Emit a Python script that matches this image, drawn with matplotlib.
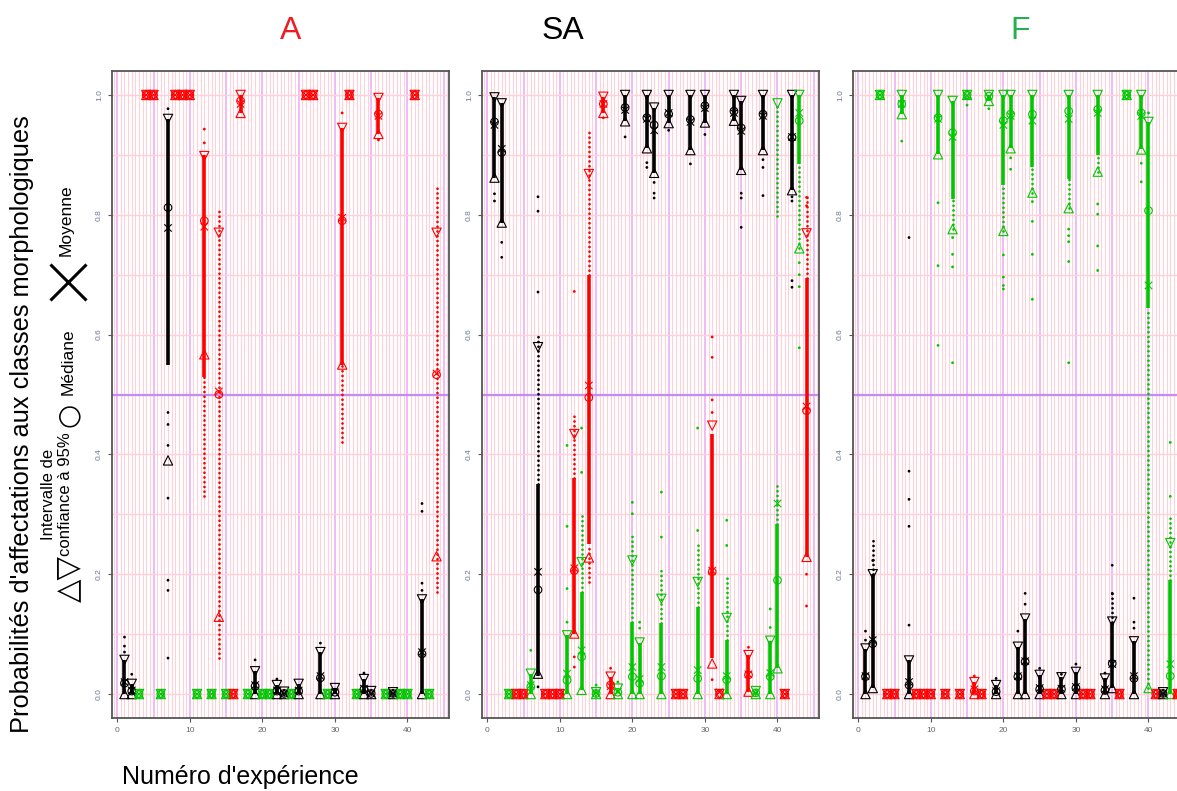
import numpy as np
import matplotlib.pyplot as plt
from matplotlib.lines import Line2D
from matplotlib.ticker import FixedLocator

plt.rcParams['font.family'] = ['Liberation Sans', 'DejaVu Sans']

# couleur (classe) de chaque experience, 1..44
classes = ['K', 'K', 'G', 'R', 'R', 'G', 'K', 'R', 'R', 'R',
           'G', 'R', 'G', 'R', 'G', 'R', 'R', 'G', 'K', 'G',
           'G', 'K', 'K', 'G', 'K', 'R', 'R', 'K', 'G', 'K',
           'R', 'R', 'G', 'K', 'K', 'R', 'G', 'K', 'G', 'G',
           'R', 'K', 'G', 'R']
couleurs = {'R': '#ff0000', 'K': '#000000', 'G': '#00c800'}
experiences = np.arange(1, 45)

# ---- panneau A ----
lo_A = [0, 0, 0, 1, 1, 0, 0.39, 1, 1, 1,
        0, 0.567, 0, 0.129, 0, 0, 0.97, 0, 0, 0,
        0, 0, 0, 0, 0, 1, 1, 0, 0, 0,
        0.55, 1, 0, 0, 0, 0.935, 0, 0, 0, 0,
        1, 0, 0, 0.23]
hi_A = [0.057, 0.017, 0, 1, 1, 0, 0.96, 1, 1, 1,
        0, 0.898, 0, 0.77, 0, 0, 1.0, 0, 0.038, 0,
        0, 0.015, 0.004, 0, 0.017, 1, 1, 0.07, 0, 0.01,
        0.945, 1, 0, 0.025, 0.005, 0.995, 0, 0.003, 0, 0,
        1, 0.158, 0, 0.77]
med_A = [0.018, 0.005, 0, 1, 1, 0, 0.812, 1, 1, 1,
         0, 0.79, 0, 0.50, 0, 0, 0.99, 0, 0.013, 0,
         0, 0.005, 0.001, 0, 0.005, 1, 1, 0.027, 0, 0.003,
         0.79, 1, 0, 0.008, 0.001, 0.968, 0, 0.001, 0, 0,
         1, 0.067, 0, 0.533]
mean_A = [0.02, 0.006, 0, 1, 1, 0, 0.778, 1, 1, 1,
          0, 0.78, 0, 0.505, 0, 0, 0.985, 0, 0.015, 0,
          0, 0.006, 0.001, 0, 0.006, 1, 1, 0.03, 0, 0.003,
          0.795, 1, 0, 0.009, 0.001, 0.965, 0, 0.001, 0, 0,
          1, 0.07, 0, 0.535]
dense_A = [(1, 0, 0.057), (2, 0, 0.017), (7, 0.55, 0.96), (12, 0.53, 0.9),
           (17, 0.97, 1.0), (19, 0, 0.038), (22, 0, 0.015), (25, 0, 0.017),
           (28, 0, 0.07), (30, 0, 0.01), (31, 0.55, 0.945), (34, 0, 0.025),
           (36, 0.935, 0.995), (42, 0, 0.158)]
sparse_A = [(12, 0.33, 0.53), (14, 0.06, 0.81), (31, 0.42, 0.55),
            (44, 0.17, 0.85)]
dots_A = [(1, 0.07), (1, 0.08), (1, 0.095), (2, 0.033), (7, 0.977),
          (7, 0.47), (7, 0.45), (7, 0.415), (7, 0.327), (7, 0.19),
          (7, 0.173), (7, 0.06), (12, 0.943), (12, 0.92), (19, 0.057),
          (22, 0.025), (28, 0.085), (31, 0.97), (34, 0.035), (36, 0.925),
          (42, 0.173), (42, 0.185), (42, 0.305), (42, 0.318)]

# ---- panneau SA ----
lo_SA = [0.862, 0.787, 0, 0, 0, 0, 0.034, 0, 0, 0,
         0, 0.101, 0.007, 0.228, 0, 0.97, 0, 0, 0.956, 0,
         0, 0.911, 0.870, 0, 0.953, 0, 0, 0.908, 0, 0.954,
         0.051, 0, 0, 0.957, 0.875, 0.004, 0, 0.908, 0, 0.043,
         0, 0.841, 0.744, 0.229]
hi_SA = [0.996, 0.986, 0, 0, 0, 0.034, 0.579, 0, 0, 0,
         0.098, 0.434, 0.22, 0.868, 0.003, 0.997, 0.029, 0.009, 1.0, 0.223,
         0.086, 1.0, 0.979, 0.159, 1.0, 0, 0, 1.0, 0.187, 1.0,
         0.448, 0, 0.127, 1.0, 0.99, 0.065, 0.005, 1.0, 0.089, 0.986,
         0, 1.0, 1.0, 0.769]
med_SA = [0.955, 0.904, 0, 0, 0, 0.012, 0.174, 0, 0, 0,
          0.023, 0.206, 0.062, 0.495, 0.001, 0.985, 0.015, 0.003, 0.979, 0.029,
          0.018, 0.962, 0.95, 0.03, 0.968, 0, 0, 0.959, 0.026, 0.982,
          0.204, 0, 0.024, 0.973, 0.945, 0.032, 0.002, 0.968, 0.029, 0.19,
          0, 0.929, 0.957, 0.473]
mean_SA = [0.95, 0.91, 0, 0, 0, 0.015, 0.204, 0, 0, 0,
           0.034, 0.21, 0.073, 0.515, 0.002, 0.985, 0.013, 0.004, 0.975, 0.045,
           0.025, 0.96, 0.941, 0.045, 0.97, 0, 0, 0.955, 0.04, 0.978,
           0.206, 0.003, 0.03, 0.97, 0.94, 0.033, 0.002, 0.965, 0.035, 0.318,
           0, 0.93, 0.97, 0.48]
dense_SA = [(1, 0.862, 0.996), (2, 0.787, 0.986), (6, 0, 0.034), (7, 0.03, 0.35),
            (11, 0, 0.098), (12, 0.1, 0.36), (13, 0.007, 0.17), (14, 0.25, 0.7),
            (16, 0.97, 0.997), (17, 0, 0.029), (19, 0.956, 1.0), (20, 0, 0.12),
            (21, 0, 0.086), (22, 0.911, 1.0), (23, 0.87, 0.979), (24, 0, 0.118),
            (25, 0.953, 1.0), (28, 0.908, 1.0), (29, 0, 0.146), (30, 0.954, 1.0),
            (31, 0.06, 0.434), (33, 0, 0.09), (34, 0.957, 1.0), (35, 0.875, 0.99),
            (36, 0.004, 0.065), (38, 0.908, 1.0), (39, 0, 0.089), (40, 0.043, 0.284),
            (42, 0.841, 1.0), (43, 0.884, 1.0), (44, 0.229, 0.695)]
sparse_SA = [(7, 0.35, 0.6), (12, 0.36, 0.47), (13, 0.17, 0.3), (14, 0.7, 0.94),
             (14, 0.187, 0.25), (20, 0.12, 0.27), (24, 0.118, 0.21),
             (29, 0.146, 0.25), (33, 0.09, 0.2), (40, 0.284, 0.35),
             (40, 0.798, 0.986), (43, 0.744, 0.884), (44, 0.695, 0.83)]
dots_SA = [(1, 0.835), (1, 0.823), (2, 0.754), (2, 0.729), (6, 0.073),
           (7, 0.83), (7, 0.806), (7, 0.671), (7, 0.012), (11, 0.415),
           (11, 0.28), (11, 0.176), (11, 0.12), (12, 0.672), (12, 0.062),
           (12, 0.045), (13, 0.444), (13, 0.37), (15, 0.015), (16, 0.962),
           (17, 0.043), (18, 0.02), (19, 0.93), (20, 0.32), (20, 0.301),
           (21, 0.12), (21, 0.11), (22, 0.887), (22, 0.879), (23, 0.854),
           (23, 0.836), (23, 0.828), (24, 0.337), (24, 0.262), (25, 0.941),
           (28, 0.885), (29, 0.444), (29, 0.273), (30, 0.934), (31, 0.596),
           (31, 0.562), (31, 0.491), (31, 0.47), (31, 0.024), (33, 0.29),
           (33, 0.248), (35, 0.836), (35, 0.828), (35, 0.779), (36, 0.078),
           (38, 0.892), (38, 0.879), (38, 0.832), (39, 0.142), (39, 0.111),
           (42, 0.83), (42, 0.823), (42, 0.69), (42, 0.679), (43, 0.72),
           (43, 0.7), (43, 0.68), (43, 0.578), (44, 0.829), (44, 0.815),
           (44, 0.2), (44, 0.147)]

# ---- panneau F ----
lo_F = [0, 0.01, 1, 0, 0, 0.968, 0, 0, 0, 0,
        0.901, 0, 0.776, 0, 1, 0, 0, 0.99, 0, 0.773,
        0.911, 0, 0, 0.837, 0, 0, 0, 0, 0.811, 0,
        0, 0, 0.872, 0, 0.01, 0, 1, 0, 0.909, 0.01,
        0, 0, 0, 0]
hi_F = [0.076, 0.2, 1, 0, 0, 1.0, 0.056, 0, 0, 0,
        1.0, 0, 0.99, 0, 1, 0.02, 0, 1.0, 0.015, 1.0,
        1.0, 0.079, 0.126, 1.0, 0.032, 0, 0, 0.028, 1.0, 0.037,
        0, 0, 1.0, 0.026, 0.121, 0, 1, 0.088, 1.0, 0.955,
        0, 0.003, 0.252, 0]
med_F = [0.029, 0.084, 1, 0, 0, 0.985, 0.015, 0, 0, 0,
         0.962, 0, 0.937, 0, 1, 0.005, 0, 0.998, 0.004, 0.957,
         0.968, 0.029, 0.054, 0.968, 0.008, 0, 0, 0.008, 0.973, 0.01,
         0, 0, 0.976, 0.006, 0.051, 0, 1, 0.026, 0.97, 0.807,
         0, 0.001, 0.03, 0]
mean_F = [0.03, 0.09, 1, 0, 0, 0.985, 0.02, 0, 0, 0,
          0.96, 0, 0.93, 0, 0.999, 0.008, 0, 0.997, 0.005, 0.95,
          0.965, 0.03, 0.055, 0.957, 0.01, 0, 0, 0.009, 0.96, 0.012,
          0, 0, 0.97, 0.008, 0.05, 0, 1, 0.03, 0.965, 0.682,
          0, 0.001, 0.05, 0]
dense_F = [(1, 0, 0.076), (2, 0.01, 0.2), (6, 0.968, 1.0), (7, 0, 0.056),
           (11, 0.901, 1.0), (13, 0.826, 0.99), (16, 0, 0.02), (18, 0.99, 1.0),
           (19, 0, 0.015), (20, 0.85, 1.0), (21, 0.911, 1.0), (22, 0, 0.079),
           (23, 0, 0.126), (24, 0.88, 1.0), (25, 0, 0.032), (28, 0, 0.028),
           (29, 0.86, 1.0), (30, 0, 0.037), (33, 0.9, 1.0), (34, 0, 0.026),
           (35, 0.01, 0.121), (38, 0, 0.088), (39, 0.909, 1.0), (40, 0.645, 0.955),
           (43, 0, 0.19)]
sparse_F = [(2, 0.2, 0.26), (13, 0.776, 0.826), (20, 0.773, 0.85),
            (24, 0.837, 0.88), (29, 0.811, 0.86), (33, 0.872, 0.9),
            (35, 0.121, 0.17), (40, 0.01, 0.645), (43, 0.19, 0.3)]
dots_F = [(1, 0.105), (1, 0.09), (2, 0.223), (6, 0.923), (7, 0.115),
          (7, 0.28), (7, 0.325), (7, 0.372), (7, 0.762), (11, 0.82),
          (11, 0.715), (11, 0.582), (13, 0.762), (13, 0.734), (13, 0.713),
          (13, 0.553), (15, 0.983), (16, 0.03), (18, 0.977), (19, 0.026),
          (20, 0.733), (20, 0.696), (20, 0.682), (20, 0.676), (21, 0.895),
          (21, 0.876), (22, 0.105), (23, 0.168), (23, 0.15), (24, 0.822),
          (24, 0.789), (24, 0.734), (24, 0.659), (25, 0.043), (28, 0.033),
          (29, 0.776), (29, 0.765), (29, 0.755), (29, 0.722), (29, 0.553),
          (30, 0.05), (33, 0.818), (33, 0.801), (33, 0.748), (33, 0.707),
          (34, 0.035), (35, 0.168), (35, 0.215), (38, 0.16), (38, 0.12),
          (38, 0.11), (39, 0.886), (39, 0.855), (40, 0.97), (43, 0.33),
          (43, 0.42)]

panneaux = [
    ('A', '#ee1c24', lo_A, hi_A, med_A, mean_A, dense_A, sparse_A, dots_A),
    ('SA', '#000000', lo_SA, hi_SA, med_SA, mean_SA, dense_SA, sparse_SA, dots_SA),
    ('F', '#22b14c', lo_F, hi_F, med_F, mean_F, dense_F, sparse_F, dots_F),
]

W, H = 1177, 791
fig = plt.figure(figsize=(W / 100, H / 100), dpi=100)
gauches = [112, 482, 853]
titres_x = [291, 563, 1020]


def col(n):
    return couleurs[classes[n - 1]]


for k, (nom, ctitre, lo, hi, med, moy, dense, sparse, dots) in enumerate(panneaux):
    ax = fig.add_axes([gauches[k] / W, 1 - 718 / H, 337 / W, 647 / H])
    ax.set_xlim(-0.72, 45.72)
    ax.set_ylim(-0.04, 1.04)

    # quadrillage
    for xv in np.arange(-1, 46.01, 0.5):
        if abs(xv / 5 - round(xv / 5)) < 1e-9:
            ax.axvline(xv, color='#f0b4f4', lw=1.3, zorder=0)
        else:
            ax.axvline(xv, color='#ffd0da', lw=0.8, zorder=0)
    for yv in np.arange(0, 1.01, 0.1):
        ax.axhline(yv, color='#ffd0da', lw=1.0, zorder=0)
    ax.axhline(0.5, color='#c28cf2', lw=1.6, zorder=0.5)

    # points : zones denses, zones clairsemees, points isoles
    for n, y0, y1 in dense:
        ax.plot([n, n], [y0, y1], color=col(n), lw=2.6,
                solid_capstyle='butt', zorder=2)
    for n, y0, y1 in sparse:
        ax.plot([n, n], [y0, y1], color=col(n), lw=2.0,
                linestyle=(0, (0.01, 1.7)), dash_capstyle='round', zorder=2)
    ax.scatter([d[0] for d in dots], [d[1] for d in dots],
               c=[col(d[0]) for d in dots], s=4, linewidths=0, zorder=2)

    cs = [col(n) for n in experiences]
    ax.scatter(experiences, hi, marker='v', s=45, facecolors='none',
               edgecolors=cs, linewidths=0.8, zorder=3)
    ax.scatter(experiences, lo, marker='^', s=45, facecolors='none',
               edgecolors=cs, linewidths=0.8, zorder=3)
    ax.scatter(experiences, med, marker='o', s=30, facecolors='none',
               edgecolors=cs, linewidths=0.8, zorder=3)
    ax.scatter(experiences, moy, marker='x', s=28, c=cs,
               linewidths=0.8, zorder=3)

    ax.xaxis.set_major_locator(FixedLocator([0, 10, 20, 30, 40]))
    ax.yaxis.set_major_locator(FixedLocator([0, 0.2, 0.4, 0.6, 0.8, 1.0]))
    ax.set_yticklabels(['0.0', '0.2', '0.4', '0.6', '0.8', '1.0'],
                       rotation=90, va='center')
    ax.tick_params(axis='x', labelsize=6, colors='#555555', length=3,
                   labelcolor='#666666')
    ax.tick_params(axis='y', labelsize=6, colors='#555555', length=3,
                   labelcolor='#6a7796')
    for sp in ax.spines.values():
        sp.set_color('#555555')
        sp.set_linewidth(1.3)

    fig.text(titres_x[k] / W, 1 - 31 / H, nom, color=ctitre, fontsize=23,
             ha='center', va='center')

# titres et legende a gauche
fig.text(22 / W, 1 - 424 / H,
         "Probabilités d'affectations aux classes morphologiques",
         rotation=90, fontsize=18.3, ha='center', va='center')
fig.text(69 / W, 1 - 578 / H, '△▽', rotation=90, fontsize=22,
         ha='center', va='center', family='DejaVu Sans')
fig.text(57 / W, 1 - 494 / H, 'Intervalle de\nconfiance à 95%', rotation=90,
         fontsize=12, ha='center', va='center', multialignment='center',
         linespacing=1.1)
fig.text(68 / W, 1 - 415 / H, '○', rotation=90, fontsize=20,
         ha='center', va='center', family='DejaVu Sans')
fig.text(68 / W, 1 - 362 / H, 'Médiane', rotation=90, fontsize=12.5,
         ha='center', va='center')
fig.add_artist(Line2D([68 / W], [1 - 282 / H], marker='x', markersize=26,
                      markeredgewidth=2.2, color='black',
                      transform=fig.transFigure))
fig.text(66 / W, 1 - 220 / H, 'Moyenne', rotation=90, fontsize=12.5,
         ha='center', va='center')
fig.text(240 / W, 1 - 777 / H, "Numéro d'expérience", fontsize=18,
         ha='center', va='center')

fig.savefig('out.png', dpi=100)
